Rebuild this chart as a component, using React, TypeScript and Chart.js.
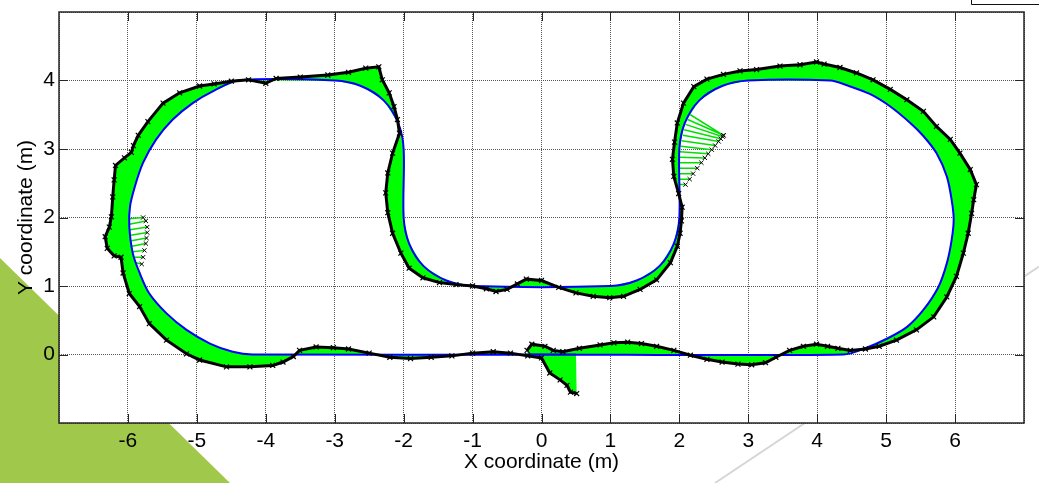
import { useEffect, useRef } from "react";
import { Chart, registerables } from "chart.js";

Chart.register(...registerables);

// Estimated trajectory (black x markers), in route order
const estX = [
  -0.21, -0.14, 0.05, 0.17, 0.31, 0.55, 0.85, 1.05, 1.25, 1.45, 1.67, 1.92, 2.16, 2.4, 2.62, 2.85, 3.05, 3.25, 3.4, 3.6,
  3.8, 3.99, 4.15, 4.3, 4.48, 4.7, 4.9, 5.15, 5.44, 5.69, 5.88, 6.02, 6.12, 6.19, 6.24, 6.27, 6.31, 6.22, 6.07, 5.93,
  5.73, 5.54, 5.3, 5.06, 4.81, 4.57, 4.33, 4.1, 3.99, 3.75, 3.46, 3.12, 2.88, 2.64, 2.4, 2.21, 2.06, 1.97, 1.93, 1.9,
  1.92, 1.99, 2.04, 2.03, 2.01, 1.97, 1.87, 1.67, 1.43, 1.19, 0.99, 0.75, 0.5, 0.25, 0.0, -0.22, -0.35,
  -0.5, -0.66, -0.8, -1.0, -1.24, -1.48, -1.72, -1.92, -2.04, -2.16, -2.23, -2.26, -2.23, -2.16, -2.06, -2.09, -2.14, -2.21, -2.31, -2.36,
  -2.55, -2.8, -3.1, -3.5, -3.85, -4.0, -4.25, -4.5, -4.75, -4.96, -5.25, -5.49, -5.71, -5.85, -5.92, -5.95, -6.05, -6.18, -6.2, -6.22,
  -6.24, -6.27, -6.33, -6.3, -6.2, -6.1, -6.07, -5.98, -5.83, -5.69, -5.44, -5.15, -4.96, -4.57, -4.23, -3.9, -3.75,
  -3.6, -3.51, -3.27, -3.02, -2.8, -2.5, -2.2, -1.9, -1.6, -1.3, -1.0, -0.7, -0.45, -0.2, 0.0, 0.12, 0.27, 0.37, 0.42, 0.51,
];
const estY = [
  0.06, 0.15, 0.12, 0.06, 0.04, 0.09, 0.14, 0.17, 0.18, 0.16, 0.12, 0.06, -0.01, -0.07, -0.11, -0.14, -0.15, -0.12, -0.04, 0.06,
  0.12, 0.15, 0.12, 0.09, 0.06, 0.08, 0.12, 0.21, 0.36, 0.55, 0.84, 1.14, 1.48, 1.77, 2.06, 2.26, 2.48, 2.7, 2.94, 3.14,
  3.33, 3.55, 3.72, 3.87, 4.01, 4.11, 4.19, 4.24, 4.27, 4.23, 4.21, 4.16, 4.14, 4.09, 4.02, 3.91, 3.67, 3.38, 3.1, 2.85,
  2.6, 2.35, 2.15, 1.95, 1.77, 1.58, 1.34, 1.09, 0.95, 0.85, 0.83, 0.85, 0.9, 0.98, 1.08, 1.1, 1.03,
  0.95, 0.92, 0.96, 1.0, 1.02, 1.05, 1.12, 1.26, 1.48, 1.77, 2.07, 2.36, 2.65, 2.94, 3.23, 3.43, 3.62, 3.82, 4.01, 4.2,
  4.18, 4.12, 4.08, 4.05, 4.03, 3.96, 4.01, 3.99, 3.95, 3.92, 3.82, 3.67, 3.4, 3.2, 3.05, 2.95, 2.87, 2.76, 2.55, 2.3,
  2.01, 1.86, 1.72, 1.55, 1.44, 1.42, 1.19, 0.89, 0.7, 0.45, 0.21, 0.01, -0.08, -0.18, -0.18, -0.16, -0.11,
  -0.03, 0.06, 0.11, 0.1, 0.08, 0.02, -0.04, -0.06, -0.04, -0.02, 0.02, 0.04, 0.02, -0.02, -0.05, -0.27, -0.37, -0.45, -0.55, -0.57,
];

// True (reference) trajectory (blue line), in route order
const trueX = [
  -0.2, 4.38, 4.67, 5.01, 5.3, 5.54, 5.76, 5.88, 5.95, 5.98, 5.95, 5.88, 5.73, 5.54, 5.35, 5.06, 4.77, 4.43, 4.19, 3.0,
  2.62, 2.29, 2.08, 2.0, 2.0, 1.92, 1.71, 1.38, 1.0, -1.0, -1.38, -1.71, -1.92, -2.0, -2.0, -2.08, -2.29, -2.62, -3.0, -4.4,
  -4.77, -5.06, -5.35, -5.59, -5.78, -5.9, -5.97, -5.98, -5.93, -5.83, -5.69, -5.44, -5.15, -4.81, -4.48, -4.19, 0.5,
];
const trueY = [
  0.0, 0.0, 0.08, 0.23, 0.4, 0.65, 0.99, 1.33, 1.67, 1.97, 2.26, 2.6, 2.94, 3.19, 3.38, 3.62, 3.8, 3.93, 4.0, 4.0,
  3.92, 3.71, 3.38, 3.0, 2.0, 1.62, 1.29, 1.08, 1.0, 1.0, 1.08, 1.29, 1.62, 2.0, 3.0, 3.38, 3.71, 3.92, 4.0, 4.0,
  3.84, 3.67, 3.43, 3.14, 2.8, 2.45, 2.16, 1.87, 1.48, 1.19, 0.89, 0.6, 0.36, 0.16, 0.04, 0.0, 0.0,
];

// Outlier estimates (fans): true position -> estimated position
const fanTrueX = [2.16, 2.12, 2.09, 2.07, 2.05, 2.03, 2.02, 2.01, 2.0, 2.0, 2.0, 2.0, 2.0, 2.0,
  -5.98, -5.98, -5.97, -5.96, -5.95, -5.94, -5.93, -5.91, -5.89];
const fanTrueY = [3.5, 3.43, 3.36, 3.28, 3.2, 3.12, 3.04, 2.96, 2.88, 2.8, 2.72, 2.64, 2.56, 2.48,
  1.98, 1.9, 1.82, 1.74, 1.66, 1.58, 1.5, 1.42, 1.34];
const fanEstX = [2.64, 2.64, 2.63, 2.6, 2.57, 2.52, 2.47, 2.42, 2.37, 2.32, 2.26, 2.2, 2.15, 2.09,
  -5.78, -5.74, -5.72, -5.72, -5.73, -5.74, -5.76, -5.78, -5.8];
const fanEstY = [3.2, 3.2, 3.18, 3.15, 3.11, 3.05, 2.99, 2.93, 2.87, 2.8, 2.72, 2.64, 2.56, 2.48,
  2.0, 1.95, 1.86, 1.78, 1.7, 1.62, 1.52, 1.42, 1.32];

const xTicks = [-6, -5, -4, -3, -2, -1, 0, 1, 2, 3, 4, 5, 6];
const yTicks = [0, 1, 2, 3, 4];
const xTitle = "X coordinate (m)";
const yTitle = "Y coordinate (m)";

const FONT = "'Liberation Sans', Arial, Helvetica, sans-serif";
const FS = 21;

export default function App() {
  const ref = useRef<HTMLCanvasElement>(null);

  useEffect(() => {
    if (!ref.current) return;
    const est = estX.map((x, i) => ({ x, y: estY[i] }));
    const tru = trueX.map((x, i) => ({ x, y: trueY[i] }));
    const band = [...est, ...tru.slice().reverse()];
    const fanLines: any[] = [];
    fanTrueX.forEach((x, i) => {
      fanLines.push({ x, y: fanTrueY[i] });
      fanLines.push({ x: fanEstX[i], y: fanEstY[i] });
      fanLines.push({ x: null, y: null });
    });
    const fanEst = fanEstX.map((x, i) => ({ x, y: fanEstY[i] }));

    const deco = {
      id: "deco",
      beforeDraw(chart: any) {
        const { ctx, chartArea: a, width, height } = chart;
        ctx.save();
        ctx.fillStyle = "#a0c84a";
        ctx.beginPath();
        ctx.moveTo(0, 258);
        ctx.lineTo(230, height);
        ctx.lineTo(0, height);
        ctx.closePath();
        ctx.fill();
        ctx.strokeStyle = "#d6d6d6";
        ctx.lineWidth = 2;
        ctx.beginPath();
        ctx.moveTo(715, height);
        ctx.lineTo(width, 266.5);
        ctx.stroke();
        ctx.strokeStyle = "#111";
        ctx.lineWidth = 1;
        ctx.beginPath();
        ctx.moveTo(971.5, 0);
        ctx.lineTo(971.5, 4.5);
        ctx.lineTo(width, 4.5);
        ctx.stroke();
        ctx.fillStyle = "#fff";
        ctx.fillRect(a.left, a.top, a.right - a.left, a.bottom - a.top);
        ctx.restore();
      },
    };

    const frame = {
      id: "frame",
      afterDatasetsDraw(chart: any) {
        const { ctx, chartArea: a, scales } = chart;
        ctx.save();
        ctx.strokeStyle = "#262626";
        ctx.lineWidth = 1;
        ctx.beginPath();
        const tl = 9;
        for (const v of xTicks) {
          const px = Math.round(scales.x.getPixelForValue(v)) + 0.5;
          ctx.moveTo(px, a.bottom);
          ctx.lineTo(px, a.bottom - tl);
          ctx.moveTo(px, a.top);
          ctx.lineTo(px, a.top + tl);
        }
        for (const v of yTicks) {
          const py = Math.round(scales.y.getPixelForValue(v)) + 0.5;
          ctx.moveTo(a.left, py);
          ctx.lineTo(a.left + tl, py);
          ctx.moveTo(a.right, py);
          ctx.lineTo(a.right - tl, py);
        }
        ctx.stroke();
        ctx.lineWidth = 1.5;
        ctx.strokeRect(a.left, a.top, a.right - a.left, a.bottom - a.top);
        ctx.restore();
      },
    };

    const chart = new Chart(ref.current, {
      type: "scatter",
      data: {
        datasets: [
          {
            data: fanEst,
            showLine: false,
            pointStyle: "crossRot",
            pointRadius: 3,
            pointBorderColor: "#000",
            pointBorderWidth: 1,
          },
          {
            data: est,
            showLine: true,
            borderColor: "#000",
            borderWidth: 3,
            backgroundColor: "transparent",
            pointStyle: "crossRot",
            pointRadius: 3.5,
            pointBorderColor: "#000",
            pointBorderWidth: 1.2,
            tension: 0,
            fill: false,
          },
          {
            data: tru,
            showLine: true,
            borderColor: "#0000ff",
            borderWidth: 2,
            pointRadius: 0,
            tension: 0.3,
            fill: false,
          },
          {
            data: fanLines,
            showLine: true,
            spanGaps: false,
            borderColor: "#00e000",
            borderWidth: 1.5,
            pointRadius: 0,
            tension: 0,
            fill: false,
          },
          {
            data: band,
            showLine: true,
            borderColor: "rgba(0,0,0,0)",
            borderWidth: 0,
            backgroundColor: "#00ff00",
            pointRadius: 0,
            tension: 0,
            fill: "shape",
          },
        ],
      } as any,
      options: {
        responsive: false,
        animation: false,
        events: [],
        layout: { padding: { top: 12, right: 15, bottom: 0, left: 0 } },
        plugins: { legend: { display: false }, tooltip: { enabled: false } },
        scales: {
          x: {
            type: "linear",
            min: -7,
            max: 7,
            ticks: {
              stepSize: 1,
              autoSkip: false,
              maxRotation: 0,
              padding: 6,
              color: "#000",
              font: { family: FONT, size: FS },
              callback: (v: any) => (xTicks.includes(Number(v)) ? String(v) : ""),
            },
            grid: { color: "#555", lineWidth: 1, drawTicks: false },
            border: { display: false, dash: [1, 1] },
            title: {
              display: true,
              text: xTitle,
              color: "#000",
              font: { family: FONT, size: FS },
              padding: { top: 0, bottom: 8 },
            },
            afterFit: (s: any) => {
              s.height = 60;
              s.paddingLeft = 0;
              s.paddingRight = 0;
            },
          },
          y: {
            type: "linear",
            min: -1,
            max: 5,
            ticks: {
              stepSize: 1,
              autoSkip: false,
              padding: 4,
              color: "#000",
              font: { family: FONT, size: FS },
              callback: (v: any) => (yTicks.includes(Number(v)) ? String(v) : ""),
            },
            grid: { color: "#555", lineWidth: 1, drawTicks: false },
            border: { display: false, dash: [1, 1] },
            title: {
              display: true,
              text: yTitle,
              color: "#000",
              font: { family: FONT, size: FS },
              padding: { top: 14, bottom: 0 },
            },
            afterFit: (s: any) => {
              s.width = 59;
              s.paddingTop = 0;
              s.paddingBottom = 0;
            },
          },
        },
      } as any,
      plugins: [deco, frame],
    });
    return () => chart.destroy();
  }, []);

  return (
    <div style={{ position: "fixed", left: 0, top: 0, width: 1039, height: 483 }}>
      <canvas ref={ref} width={1039} height={483} style={{ display: "block" }} />
    </div>
  );
}
